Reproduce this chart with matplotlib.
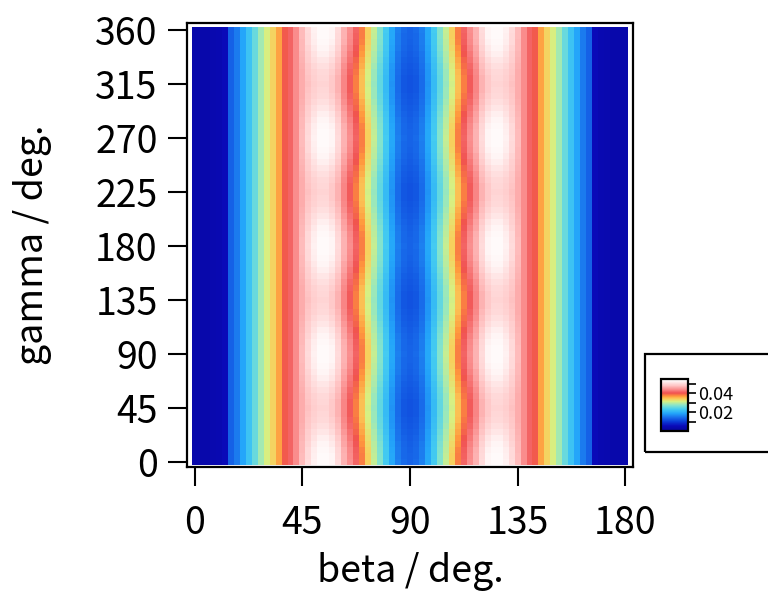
import numpy as np
import matplotlib
matplotlib.use('Agg')
import matplotlib.pyplot as plt
from matplotlib.colors import LinearSegmentedColormap
from matplotlib.patches import Rectangle

plt.rcParams['font.family'] = ['Noto Sans CJK JP', 'DejaVu Sans']

# grid: beta every 2.5 deg, gamma every 5 deg
beta_deg = np.linspace(0, 180, 73)
gamma_deg = np.linspace(0, 360, 73)

# mean value along each beta column
beta_profile = [
    0.0033, 0.0033, 0.0033, 0.0039, 0.0044, 0.0055, 0.0132, 0.0154, 0.0187, 0.0220,
    0.0253, 0.0286, 0.0314, 0.0336, 0.0363, 0.0396, 0.0413, 0.0440, 0.0468, 0.0490,
    0.0506, 0.0517, 0.0517, 0.0506, 0.0484, 0.0451, 0.0424, 0.0396, 0.0363, 0.0325,
    0.0292, 0.0259, 0.0220, 0.0182, 0.0149, 0.0132, 0.0127,
    0.0132, 0.0149, 0.0182, 0.0220, 0.0259, 0.0292, 0.0325, 0.0363, 0.0396, 0.0424,
    0.0451, 0.0484, 0.0506, 0.0517, 0.0517, 0.0506, 0.0490, 0.0468, 0.0440, 0.0413,
    0.0396, 0.0363, 0.0336, 0.0314, 0.0286, 0.0253, 0.0220, 0.0187, 0.0154, 0.0132,
    0.0055, 0.0044, 0.0039, 0.0033, 0.0033, 0.0033,
]

# how strongly each beta column varies with gamma
beta_swing = [
    0, 0, 0, 0, 0, 0, 0, 0, 0, 0, 0, 0, 0, 0, 0, 0, 0, 0,
    0.0006, 0.0011, 0.0017, 0.0022, 0.0022, 0.0022, 0.0017, 0.0017, 0.0017, 0.0017,
    0.0017, 0.0014, 0.0011, 0.0011, 0.0008, 0.0008, 0.0008, 0.0008, 0.0008,
    0.0008, 0.0008, 0.0008, 0.0008, 0.0011, 0.0011, 0.0014, 0.0017, 0.0017, 0.0017,
    0.0017, 0.0017, 0.0022, 0.0022, 0.0022, 0.0017, 0.0011, 0.0006,
    0, 0, 0, 0, 0, 0, 0, 0, 0, 0, 0, 0, 0, 0, 0, 0, 0, 0,
]

# gamma pattern (repeats every 90 deg)
gamma_wave = [
    1.0, 0.94, 0.77, 0.5, 0.17, -0.17, -0.5, -0.77, -0.94, -1.0, -0.94, -0.77, -0.5, -0.17, 0.17, 0.5, 0.77, 0.94,
    1.0, 0.94, 0.77, 0.5, 0.17, -0.17, -0.5, -0.77, -0.94, -1.0, -0.94, -0.77, -0.5, -0.17, 0.17, 0.5, 0.77, 0.94,
    1.0, 0.94, 0.77, 0.5, 0.17, -0.17, -0.5, -0.77, -0.94, -1.0, -0.94, -0.77, -0.5, -0.17, 0.17, 0.5, 0.77, 0.94,
    1.0, 0.94, 0.77, 0.5, 0.17, -0.17, -0.5, -0.77, -0.94, -1.0, -0.94, -0.77, -0.5, -0.17, 0.17, 0.5, 0.77, 0.94,
    1.0,
]

z = np.array(beta_profile)[None, :] + np.outer(gamma_wave, beta_swing)

vmin, vmax = 0.0, 0.055
cbar_ticks = [0.01, 0.02, 0.03, 0.04, 0.05]
cbar_labels = ['', '0.02', '', '0.04', '']

stops = [
    (0.00, (5, 5, 150)), (0.10, (10, 10, 185)), (0.18, (10, 60, 215)),
    (0.26, (25, 110, 235)), (0.34, (35, 165, 250)), (0.42, (70, 205, 240)),
    (0.50, (140, 230, 200)), (0.57, (215, 240, 130)), (0.62, (250, 205, 90)),
    (0.67, (255, 150, 60)), (0.73, (240, 80, 80)), (0.80, (250, 140, 140)),
    (0.88, (255, 200, 200)), (0.96, (255, 245, 245)), (1.00, (255, 255, 255)),
]
cmap = LinearSegmentedColormap.from_list(
    'rainbow_white', [(p, tuple(c / 255 for c in rgb)) for p, rgb in stops])

fig = plt.figure(figsize=(7.68, 5.91), dpi=100)
ax = fig.add_axes([187 / 768, 1 - 467 / 591, 446 / 768, 444 / 591])

mesh = ax.pcolormesh(beta_deg, gamma_deg, z, cmap=cmap, vmin=vmin, vmax=vmax,
                     shading='nearest')
ax.set_xlim(-3.3, 183.3)
ax.set_ylim(-4.4, 365.9)

ax.set_xticks([0, 45, 90, 135, 180])
ax.set_yticks([0, 45, 90, 135, 180, 225, 270, 315, 360])
ax.tick_params(direction='out', length=14, width=1.5, labelsize=27,
               top=False, right=False)
ax.tick_params(axis='x', pad=13)
ax.tick_params(axis='y', pad=7)
for s in ax.spines.values():
    s.set_linewidth(1.6)

ax.set_xlabel('beta / deg.', fontsize=27, labelpad=6)
ax.set_ylabel('gamma / deg.', fontsize=27, labelpad=31)

# legend box with colour scale
fig.patches.append(Rectangle((645 / 768, 1 - 452 / 591), 140 / 768, 98 / 591,
                             transform=fig.transFigure, fill=False,
                             edgecolor='black', linewidth=1.6))
cax = fig.add_axes([661 / 768, 1 - 431 / 591, 27 / 768, 52 / 591])
cb = fig.colorbar(mesh, cax=cax)
cb.set_ticks(cbar_ticks)
cb.set_ticklabels(cbar_labels)
cb.outline.set_linewidth(1.6)
cax.tick_params(direction='out', length=6, width=1.2, labelsize=13, pad=1)

fig.savefig('out.png', dpi=100)
